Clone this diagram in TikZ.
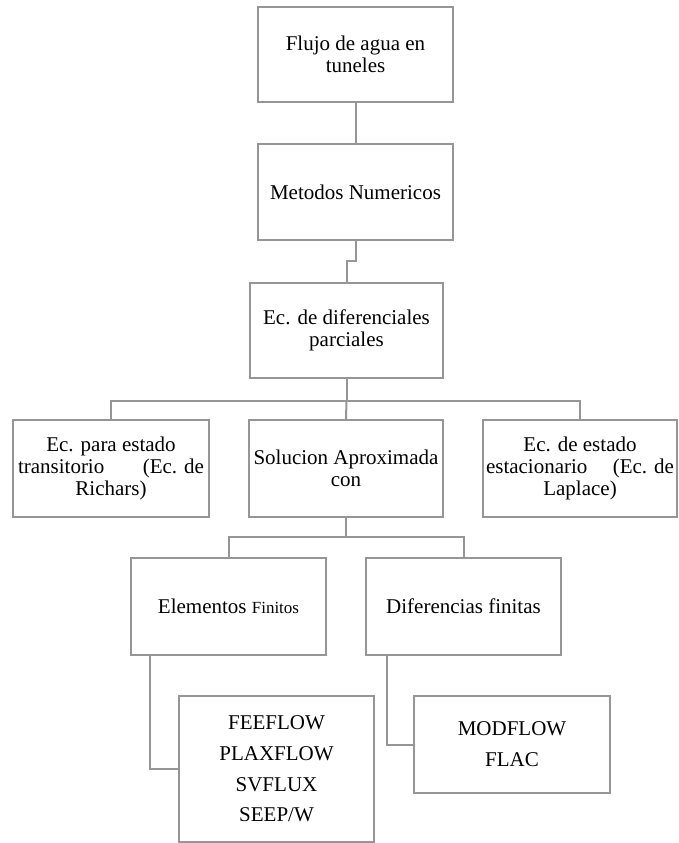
\documentclass[tikz,border=0pt]{standalone}
\usepackage{fontspec}
\setmainfont{Liberation Serif}
\definecolor{edge}{RGB}{150,150,150}
\tikzset{
  boxnode/.style={draw=edge, line width=2pt, rectangle, inner sep=2pt, align=center,
    font=\fontsize{21}{22}\selectfont, text=black},
  link/.style={draw=edge, line width=2pt}
}
\begin{document}
\begin{tikzpicture}[x=1pt,y=-1pt]
\useasboundingbox (0,0) rectangle (678,843);
\node[boxnode, minimum width=195pt, minimum height=95pt] (b1) at (355.5,54.5) {Flujo de agua en\\tuneles};
\node[boxnode, minimum width=195pt, minimum height=96pt] (b2) at (355.5,192) {Metodos Numericos};
\node[boxnode, minimum width=193pt, minimum height=95pt] (b3) at (346.5,330.5) {Ec. de diferenciales\\parciales};
\node[boxnode, minimum width=196pt, minimum height=97pt] (l) at (111,468.5) {Ec. para estado\\\makebox[186pt]{transitorio\hfill(Ec. de}\\Richars)};
\node[boxnode, minimum width=194pt, minimum height=97pt] (m) at (346,468.5) {Solucion Aproximada\\con};
\node[boxnode, minimum width=194pt, minimum height=97pt] (r) at (580,468.5) {Ec. de estado\\\makebox[188pt]{estacionario\hfill(Ec. de}\\Laplace)};
\node[boxnode, minimum width=195pt, minimum height=97pt] (e) at (228.5,606.5) {Elementos {\fontsize{17}{18}\selectfont Finitos}};
\node[boxnode, minimum width=195pt, minimum height=97pt] (d) at (463.5,606.5) {Diferencias finitas};
\node[boxnode, minimum width=195pt, minimum height=146pt, font=\fontsize{21}{30.7}\selectfont] (f) at (276.5,769) {FEEFLOW\\PLAXFLOW\\SVFLUX\\SEEP/W};
\node[boxnode, minimum width=196pt, minimum height=97pt, font=\fontsize{21}{31}\selectfont] (mf) at (512,744.5) {MODFLOW\\FLAC};

\coordinate (j1) at (346.5,401);
\coordinate (j2) at (346,537);
\draw[link] (b1.south) -- (b2.north);
\draw[link] (b2.south) -- ++(0,20) -| (b3.north);
\draw[link] (b3.south) -- (j1);
\draw[link] (j1) -| (l.north);
\draw[link] (j1) -- (m.north);
\draw[link] (j1) -| (r.north);
\draw[link] (m.south) -- (j2);
\draw[link] (j2) -| (e.north);
\draw[link] (j2) -| (d.north);
\draw[link] (e.south west) ++(20,0) |- (f.west);
\draw[link] (d.south west) ++(22,0) |- (mf.west);
\end{tikzpicture}
\end{document}
